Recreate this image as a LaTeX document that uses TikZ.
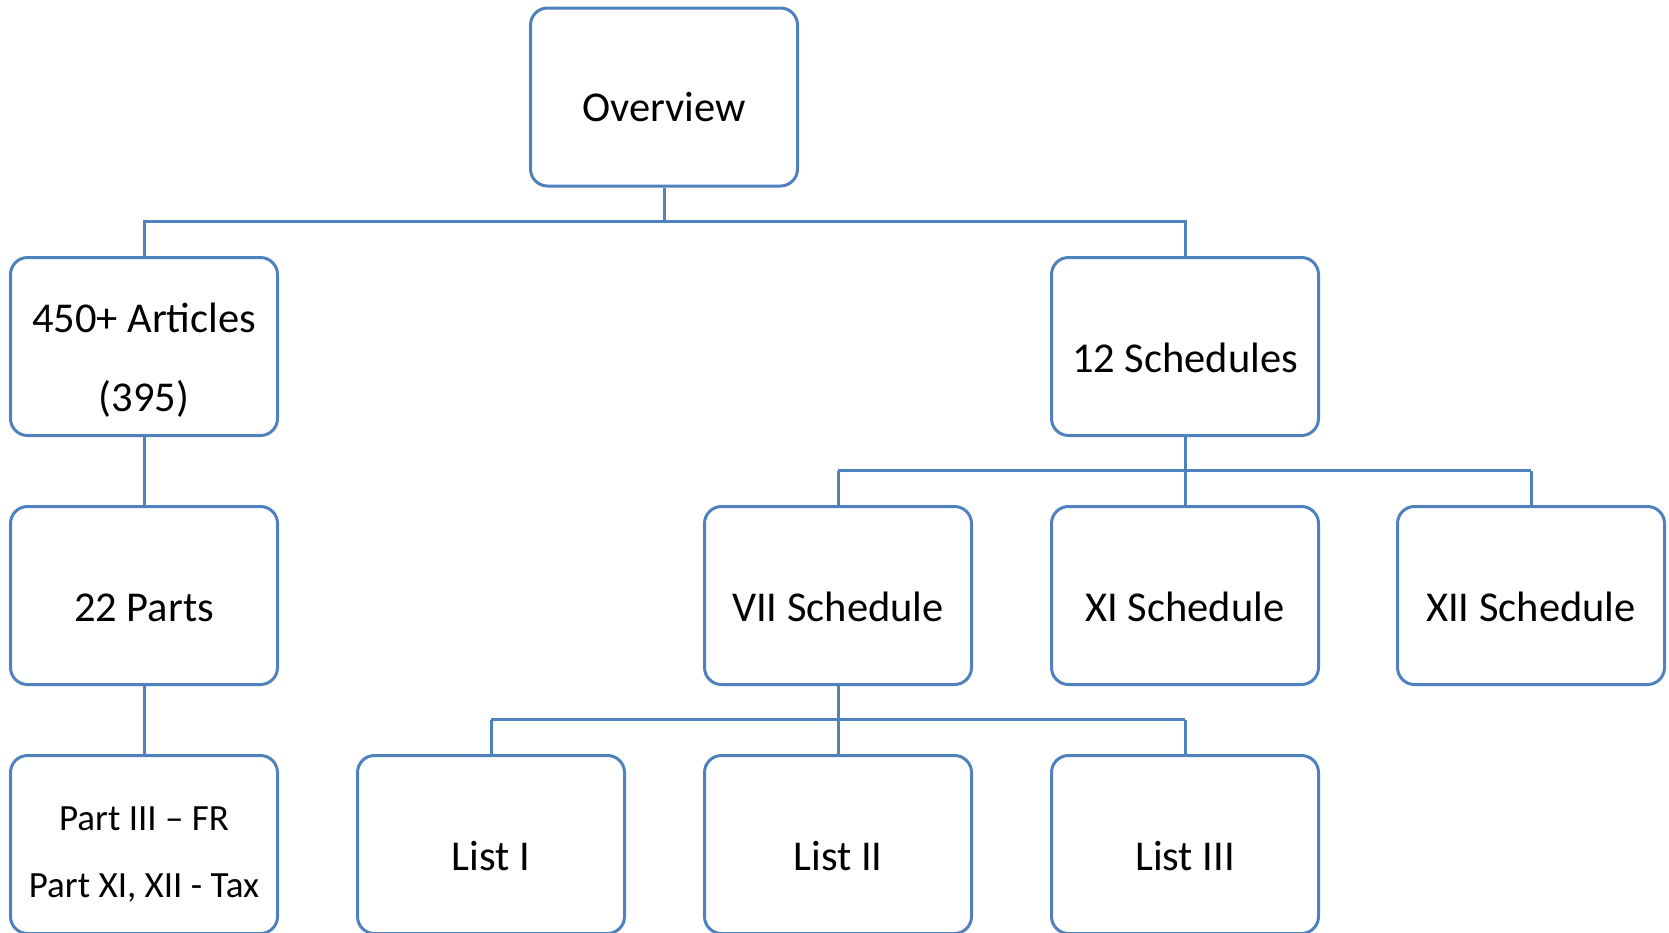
\documentclass[tikz,border=0pt]{standalone}
\usepackage{fontspec}
\setmainfont{Carlito}
\definecolor{boxblue}{HTML}{4F81BD}
\tikzset{
  box/.style={draw=boxblue, line width=3pt, rounded corners=17pt, minimum width=267pt, minimum height=178pt, inner sep=0pt, fill=white},
  conn/.style={draw=boxblue, line width=3pt},
  big/.style={font=\fontsize{42.5}{50}\selectfont, anchor=base, inner sep=0pt},
  small/.style={font=\fontsize{37}{44}\selectfont, anchor=base, inner sep=0pt},
}
\begin{document}
\begin{tikzpicture}[x=1pt,y=1pt]
\useasboundingbox (0,0) rectangle (1669,-932);
% bus coordinates
\coordinate (bus1) at (0,-221);
\coordinate (bus2) at (0,-470.5);
\coordinate (bus3) at (0,-719.5);
% boxes
\node[box] (ov)   at (664,-97) {};
\node[box] (art)  at (144,-346.5) {};
\node[box] (sch)  at (1185,-346.5) {};
\node[box] (parts) at (144,-595.5) {};
\node[box] (vii)  at (838,-595.5) {};
\node[box] (xi)   at (1185,-595.5) {};
\node[box] (xii)  at (1531,-595.5) {};
\node[box] (pt)   at (144,-844.5) {};
\node[box] (l1)   at (491,-844.5) {};
\node[box] (l2)   at (838,-844.5) {};
\node[box] (l3)   at (1185,-844.5) {};
% connectors
\draw[conn] (ov.south) -- (ov.south |- bus1) -| (art.north);
\draw[conn] (ov.south |- bus1) -| (sch.north);
\draw[conn] (art.south) -- (parts.north);
\draw[conn] (parts.south) -- (pt.north);
\draw[conn] (sch.south) -- (xi.north);
\draw[conn] (vii.north |- bus2) -- (xii.north |- bus2);
\draw[conn] (vii.north |- bus2) -- (vii.north);
\draw[conn] (xii.north |- bus2) -- (xii.north);
\draw[conn] (vii.south) -- (l2.north);
\draw[conn] (l1.north |- bus3) -- (l3.north |- bus3);
\draw[conn] (l1.north |- bus3) -- (l1.north);
\draw[conn] (l3.north |- bus3) -- (l3.north);
% texts
\node[big] (tov) at (664,-121.5) {Overview};
\node[big] (tart1) at (144,-332) {450+ Articles};
\node[big] (tart2) at (144,-411) {(395)};
\node[big] (tsch) at (1185,-372.5) {12 Schedules};
\node[big] (tparts) at (144,-621.5) {22 Parts};
\node[big] (tvii) at (838,-621.5) {VII Schedule};
\node[big] (txi) at (1185,-621.5) {XI Schedule};
\node[big] (txii) at (1531,-621.5) {XII Schedule};
\node[small] (tpt1) at (144,-830.5) {Part III – FR};
\node[small] (tpt2) at (144,-897) {Part XI, XII - Tax};
\node[big] (tl1) at (491,-870.5) {List I};
\node[big] (tl2) at (838,-870.5) {List II};
\node[big] (tl3) at (1185,-870.5) {List III};
\end{tikzpicture}
\end{document}
